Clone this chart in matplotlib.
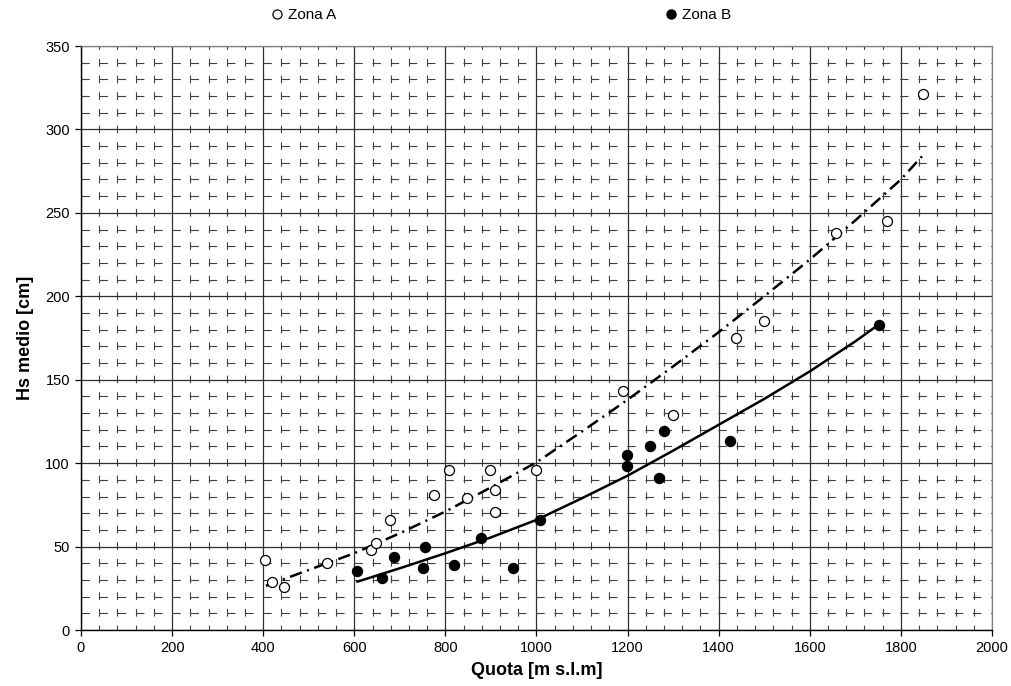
import matplotlib
matplotlib.use("Agg")
import matplotlib.pyplot as plt
from matplotlib.ticker import MultipleLocator
from matplotlib.lines import Line2D

plt.rcParams['font.family'] = ['Liberation Sans', 'DejaVu Sans']
plt.rcParams['lines.scale_dashes'] = False

# Zona A (open circles)
quota_a = [405, 420, 445, 540, 637, 648, 678, 775, 808, 847, 898, 909, 909, 999,
           1190, 1300, 1439, 1500, 1657, 1770, 1849]
hs_a = [42, 29, 26, 40, 48, 52, 66, 81, 96, 79, 96, 84, 71, 96,
        143, 129, 175, 185, 238, 245, 321]

# Zona B (filled circles)
quota_b = [607, 661, 688, 751, 756, 819, 878, 948, 1008, 1199, 1199, 1250, 1281,
           1270, 1425, 1751]
hs_b = [35.5, 31, 44, 37, 50, 39, 55, 37, 66, 105, 98, 110, 119, 91, 113, 183]

# Trend lines
trend_a_x = [406, 500, 600, 700, 800, 900, 1000, 1100, 1200, 1300, 1400, 1500, 1600, 1700, 1800, 1850]
trend_a_y = [26.5, 36, 46, 58, 71, 85.5, 100.5, 119, 138, 158, 178.5, 200, 222, 245.5, 270, 285]
trend_b_x = [607, 700, 800, 900, 1000, 1100, 1200, 1300, 1400, 1500, 1600, 1700, 1751]
trend_b_y = [29, 37, 46, 55.5, 66, 79, 92.5, 107.5, 123, 138.5, 155, 173, 183]

fig = plt.figure(figsize=(10.12, 6.86), dpi=100)
ax = fig.add_axes([81/1012, 1-630/686, (992-81)/1012, (630-46)/686])

ax.set_xlim(0, 2000)
ax.set_ylim(0, 350)
ax.xaxis.set_major_locator(MultipleLocator(200))
ax.yaxis.set_major_locator(MultipleLocator(50))
ax.xaxis.set_minor_locator(MultipleLocator(40))
ax.yaxis.set_minor_locator(MultipleLocator(10))

ax.grid(which='major', color='#303030', linewidth=0.9, linestyle='-')
ax.grid(which='minor', axis='x', color='#404040', linewidth=0.8, linestyle=(2, (5.5, 6.5)))
ax.grid(which='minor', axis='y', color='#404040', linewidth=0.8, linestyle=(0, (6, 7.1)))
ax.set_axisbelow(True)

ax.tick_params(which='major', direction='out', length=4, width=0.9, labelsize=10.5,
               colors='black', pad=4)
ax.tick_params(which='minor', length=0)
for s in ['top', 'right']:
    ax.spines[s].set_color('#808080')
    ax.spines[s].set_linewidth(0.9)
for s in ['left', 'bottom']:
    ax.spines[s].set_color('black')
    ax.spines[s].set_linewidth(1.0)

ax.plot(trend_a_x, trend_a_y, color='black', linewidth=1.8,
        linestyle=(0, (9, 4, 1.5, 4)), zorder=3)
ax.plot(trend_b_x, trend_b_y, color='black', linewidth=1.8, linestyle='-', zorder=3)

ax.plot(quota_a, hs_a, linestyle='none', marker='o', markersize=7.2,
        markerfacecolor='white', markeredgecolor='black', markeredgewidth=0.9, zorder=4)
ax.plot(quota_b, hs_b, linestyle='none', marker='o', markersize=7.2,
        markerfacecolor='black', markeredgecolor='black', zorder=4)

ax.set_xlabel('Quota [m s.l.m]', fontsize=13, fontweight='bold', labelpad=5)
ax.set_ylabel('Hs medio [cm]', fontsize=13, fontweight='bold', labelpad=8)

handles = [
    Line2D([], [], linestyle='none', marker='o', markersize=6.5, markerfacecolor='white',
           markeredgecolor='black', markeredgewidth=0.9, label='Zona A'),
    Line2D([], [], linestyle='none', marker='o', markersize=6.5, markerfacecolor='black',
           markeredgecolor='black', label='Zona B'),
]
fig.legend(handles=handles, loc='center', bbox_to_anchor=(501/1012, 1-15/686), ncol=2,
           frameon=False, fontsize=11, handlelength=0.8, handletextpad=0.3,
           columnspacing=21.5)

fig.savefig('out.png', dpi=100)
